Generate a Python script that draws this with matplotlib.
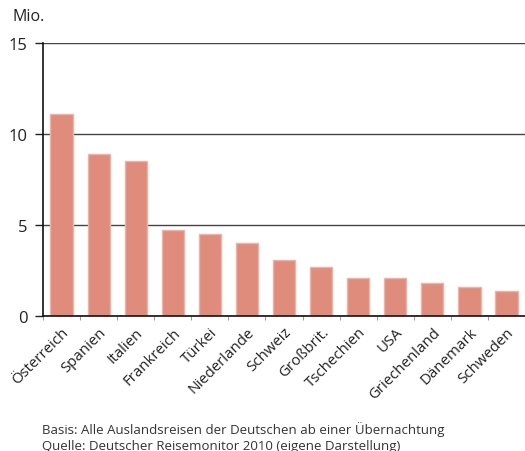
import matplotlib
matplotlib.use("Agg")
import matplotlib.pyplot as plt
import numpy as np

plt.rcParams['font.family'] = ['Open Sans', 'DejaVu Sans']

laender = ['Österreich', 'Spanien', 'Italien', 'Frankreich', 'Türkei', 'Niederlande',
           'Schweiz', 'Großbrit.', 'Tschechien', 'USA', 'Griechenland', 'Dänemark', 'Schweden']
reisen = [11.1, 8.9, 8.5, 4.7, 4.5, 4.0, 3.1, 2.7, 2.1, 2.1, 1.8, 1.6, 1.4]
y_ticks = [0, 5, 10, 15]

fig = plt.figure(figsize=(5.25, 4.52), dpi=100)
ax = fig.add_axes([0.082, 0.2987, 0.918, 0.604])

x = np.arange(len(laender))
ax.bar(x, reisen, width=0.6, color='#e08c7c', edgecolor='#eeb3a8', linewidth=1, zorder=2)

ax.set_xlim(-0.5, len(laender) - 0.5)
ax.set_ylim(0, 15)
ax.set_yticks(y_ticks)
ax.tick_params(axis='y', labelsize=12, length=6, width=1, color='#222222', pad=5, labelcolor='#222222')
ax.yaxis.grid(True, color='#444444', linewidth=1, zorder=1)

ax.set_xticks(x)
ax.set_xticklabels(laender, rotation=45, ha='right', rotation_mode='anchor', fontsize=10.8, color='#222222')
ax.tick_params(axis='x', length=0, pad=6)
ax.set_xticks(np.arange(-0.5, len(laender), 1), minor=True)
ax.tick_params(axis='x', which='minor', length=3, color='#888888')

for s in ['top', 'right']:
    ax.spines[s].set_visible(False)
ax.spines['left'].set_color('#111111')
ax.spines['bottom'].set_color('#111111')
ax.spines['left'].set_linewidth(1.2)
ax.spines['bottom'].set_linewidth(1.2)

fig.text(0.023, 0.962, 'Mio.', fontsize=11.5, color='#222222', va='center')
fig.text(0.08, 0.049, 'Basis: Alle Auslandsreisen der Deutschen ab einer Übernachtung',
         fontsize=9.5, color='#333333', va='center')
fig.text(0.08, 0.013, 'Quelle: Deutscher Reisemonitor 2010 (eigene Darstellung)',
         fontsize=9.5, color='#333333', va='center')

fig.savefig('out.png', dpi=100)
